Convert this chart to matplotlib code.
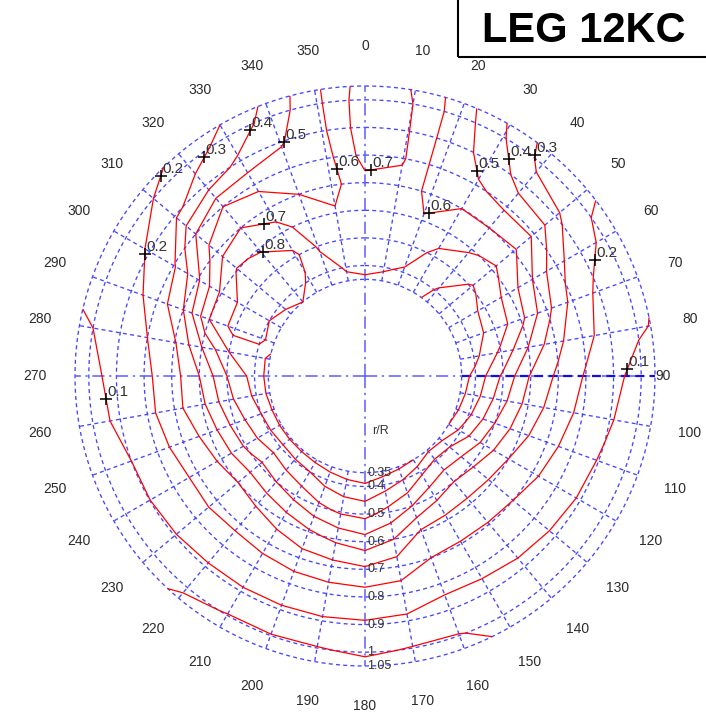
import numpy as np
import matplotlib.pyplot as plt
from matplotlib.patches import Rectangle

plt.rcParams['font.family'] = ['Liberation Sans', 'DejaVu Sans']

# azimuth of each row (deg, clockwise from top) and radial stations r/R
psi_deg = np.arange(0, 360, 10)
r_R = np.array([0.35, 0.4, 0.5, 0.6, 0.7, 0.8, 0.9, 1.0, 1.05])

# measured ratio, one row per azimuth, columns follow r_R
ratio = np.array([
    [0.71, 0.68, 0.65, 0.64, 0.67, 0.74, 0.76, 0.76, 0.75],    # 0
    [0.72, 0.69, 0.66, 0.65, 0.67, 0.71, 0.705, 0.70, 0.695],  # 10
    [0.74, 0.71, 0.66, 0.61, 0.57, 0.55, 0.55, 0.55, 0.54],    # 20
    [0.76, 0.74, 0.72, 0.66, 0.60, 0.51, 0.465, 0.41, 0.39],   # 30
    [0.83, 0.81, 0.75, 0.69, 0.60, 0.48, 0.355, 0.27, 0.25],   # 40
    [0.86, 0.85, 0.81, 0.72, 0.62, 0.48, 0.32, 0.22, 0.215],   # 50
    [0.86, 0.85, 0.78, 0.665, 0.50, 0.33, 0.24, 0.18, 0.16],   # 60
    [0.86, 0.84, 0.77, 0.63, 0.43, 0.27, 0.18, 0.13, 0.11],    # 70
    [0.85, 0.83, 0.68, 0.50, 0.33, 0.23, 0.16, 0.11, 0.098],   # 80
    [0.84, 0.77, 0.58, 0.39, 0.28, 0.19, 0.12, 0.07, 0.05],    # 90
    [0.83, 0.75, 0.54, 0.36, 0.255, 0.173, 0.107, 0.06, 0.05], # 100
    [0.82, 0.72, 0.50, 0.33, 0.233, 0.16, 0.095, 0.06, 0.05],  # 110
    [0.80, 0.675, 0.46, 0.30, 0.217, 0.15, 0.09, 0.06, 0.05],  # 120
    [0.74, 0.60, 0.417, 0.277, 0.20, 0.138, 0.085, 0.05, 0.04],# 130
    [0.72, 0.58, 0.40, 0.27, 0.194, 0.131, 0.08, 0.05, 0.04],  # 140
    [0.80, 0.625, 0.433, 0.27, 0.193, 0.127, 0.07, 0.03, 0.02],# 150
    [0.82, 0.70, 0.50, 0.283, 0.20, 0.123, 0.07, -0.005, -0.03],  # 160
    [0.84, 0.74, 0.567, 0.40, 0.244, 0.16, 0.08, -0.005, -0.03],  # 170
    [0.86, 0.783, 0.629, 0.455, 0.283, 0.155, 0.09, 0.01, -0.02], # 180
    [0.85, 0.767, 0.614, 0.42, 0.263, 0.155, 0.09, -0.005, -0.03],# 190
    [0.84, 0.74, 0.58, 0.383, 0.256, 0.15, 0.09, -0.005, -0.03],  # 200
    [0.83, 0.70, 0.533, 0.343, 0.236, 0.15, 0.09, -0.005, -0.03], # 210
    [0.82, 0.68, 0.50, 0.314, 0.223, 0.15, 0.09, 0.02, -0.02],    # 220
    [0.82, 0.66, 0.475, 0.30, 0.229, 0.154, 0.095, 0.06, 0.05],   # 230
    [0.82, 0.683, 0.517, 0.317, 0.223, 0.157, 0.099, 0.07, 0.06], # 240
    [0.82, 0.70, 0.54, 0.34, 0.238, 0.167, 0.10, 0.07, 0.06],     # 250
    [0.83, 0.725, 0.575, 0.375, 0.267, 0.171, 0.112, 0.08, 0.07], # 260
    [0.83, 0.74, 0.60, 0.40, 0.252, 0.178, 0.122, 0.08, 0.07],    # 270
    [0.81, 0.78, 0.70, 0.50, 0.29, 0.20, 0.15, 0.10, 0.095],      # 280
    [0.78, 0.81, 0.84, 0.70, 0.40, 0.237, 0.17, 0.13, 0.11],      # 290
    [0.75, 0.80, 0.84, 0.72, 0.48, 0.285, 0.21, 0.16, 0.14],      # 300
    [0.78, 0.82, 0.85, 0.81, 0.66, 0.50, 0.28, 0.20, 0.17],       # 310
    [0.80, 0.83, 0.86, 0.79, 0.70, 0.60, 0.35, 0.26, 0.22],       # 320
    [0.74, 0.79, 0.82, 0.74, 0.65, 0.58, 0.42, 0.33, 0.30],       # 330
    [0.73, 0.74, 0.69, 0.64, 0.60, 0.55, 0.49, 0.44, 0.42],       # 340
    [0.72, 0.69, 0.65, 0.61, 0.57, 0.57, 0.58, 0.58, 0.58],       # 350
])

levels = [0.0, 0.1, 0.2, 0.3, 0.4, 0.5, 0.6, 0.7, 0.8]

# inline contour labels: value and rough spot (azimuth deg, r/R)
label_val = [0.4, 0.5, 0.3, 0.2, 0.2, 0.7, 0.8, 0.6, 0.7, 0.5, 0.4, 0.3, 0.6, 0.2, 0.1, 0.1]
label_psi = [335.2, 340.4, 324.4, 314.6, 299.0, 326.7, 320.8, 353.1, 1.7, 26.9, 33.3, 36.5, 20.7, 62.9, 88.5, 265.0]
label_rad = [0.977, 0.907, 0.958, 1.03, 0.911, 0.667, 0.585, 0.759, 0.736, 0.825, 0.937, 1.0, 0.647, 0.924, 0.95, 0.927]

ring_r = [0.35, 0.4, 0.5, 0.6, 0.7, 0.8, 0.9, 1.0, 1.05]
ring_txt = ['0.35', '0.4', '0.5', '0.6', '0.7', '0.8', '0.9', '1', '1.05']
angle_ticks = list(range(0, 360, 10))

fig = plt.figure(figsize=(7.06, 7.17), dpi=100)
ax = fig.add_axes([75 / 706, 51 / 717, 580 / 706, 580 / 717], projection='polar')
ax.set_theta_zero_location('N')
ax.set_theta_direction(-1)
ax.set_ylim(0, 1.05)
ax.axis('off')

# dashed polar mesh
grid_c = '#4646ff'
dash = (0, (3, 2.5))
full = np.linspace(0, 2 * np.pi, 500)
for rr in ring_r:
    ax.plot(full, np.full_like(full, rr), color=grid_c, lw=0.95, ls=dash, zorder=1, clip_on=False)
for a in angle_ticks:
    if a % 90:
        t = np.radians(a)
        ax.plot([t, t], [0.35, 1.05], color=grid_c, lw=0.95, ls=dash, zorder=1, clip_on=False)

# main cross through the hub
for a in (0, 90, 180, 270):
    t = np.radians(a)
    ax.plot([t, t], [0, 1.05], color='#5c5cff', lw=1.1, ls=(0, (8, 3, 1.5, 3)), zorder=1,
            clip_on=False)
ax.plot([np.pi / 2, np.pi / 2], [0.35, 1.05], color='#1010e0', lw=1.6, ls=(0, (4, 2.5)),
        zorder=2, clip_on=False)

# contours
theta = np.radians(np.append(psi_deg, 360))
Z = np.vstack([ratio, ratio[:1]])
T, RR = np.meshgrid(theta, r_R, indexing='ij')
cs = ax.contour(T, RR, Z, levels=levels, colors='red', linewidths=0.9, zorder=3)
cs.set_clip_on(False)


def nearest_on_level(level, t0, r0):
    k = int(np.argmin(np.abs(np.array(cs.levels) - level)))
    q = np.array([r0 * np.sin(t0), r0 * np.cos(t0)])
    best, best_d = None, np.inf
    for seg in cs.allsegs[k]:
        if len(seg) < 2:
            continue
        p = np.column_stack([seg[:, 1] * np.sin(seg[:, 0]), seg[:, 1] * np.cos(seg[:, 0])])
        a, b = p[:-1], p[1:]
        ab = b - a
        l2 = (ab ** 2).sum(1)
        l2[l2 == 0] = 1e-12
        s = np.clip(((q - a) * ab).sum(1) / l2, 0, 1)
        proj = a + s[:, None] * ab
        d = ((proj - q) ** 2).sum(1)
        i = int(np.argmin(d))
        if d[i] < best_d:
            best_d, best = d[i], proj[i]
    return np.arctan2(best[0], best[1]), np.hypot(best[0], best[1])


for v, ps, rd in zip(label_val, label_psi, label_rad):
    t, r = nearest_on_level(v, np.radians(ps), rd)
    ax.plot(t, r, '+', color='black', ms=9, mew=1.1, zorder=5, clip_on=False)
    ax.annotate(f'{v:g}', (t, r), xytext=(1, 0), textcoords='offset points',
                ha='left', va='bottom', fontsize=11, color='#333333', zorder=6)

# azimuth labels
for a in angle_ticks:
    rl = 1.08 if a == 90 else 1.195
    ax.text(np.radians(a), rl, str(a), ha='center', va='center',
            fontsize=10, color='#2b2b2b')

# radial station labels along 180 deg
for rr, tx in zip(ring_r, ring_txt):
    ax.annotate(tx, (np.pi, rr), xytext=(1.5, 0), textcoords='offset points',
                ha='left', va='center', fontsize=9, color='#333333', zorder=6)
ax.annotate('r/R', (np.pi, 0.2), xytext=(5, 0), textcoords='offset points',
            ha='left', va='center', fontsize=9, color='#333333')

# title box in the corner
fig.patches.append(Rectangle((458 / 706, 1 - 57 / 717), 0.5, 0.2, transform=fig.transFigure,
                             fill=False, lw=1.5, ec='black'))
fig.text(482 / 706, 1 - 42 / 717, 'LEG 12KC', fontsize=30, fontweight='bold',
         ha='left', va='baseline', color='black')

fig.savefig('out.png', dpi=100, facecolor='white')
